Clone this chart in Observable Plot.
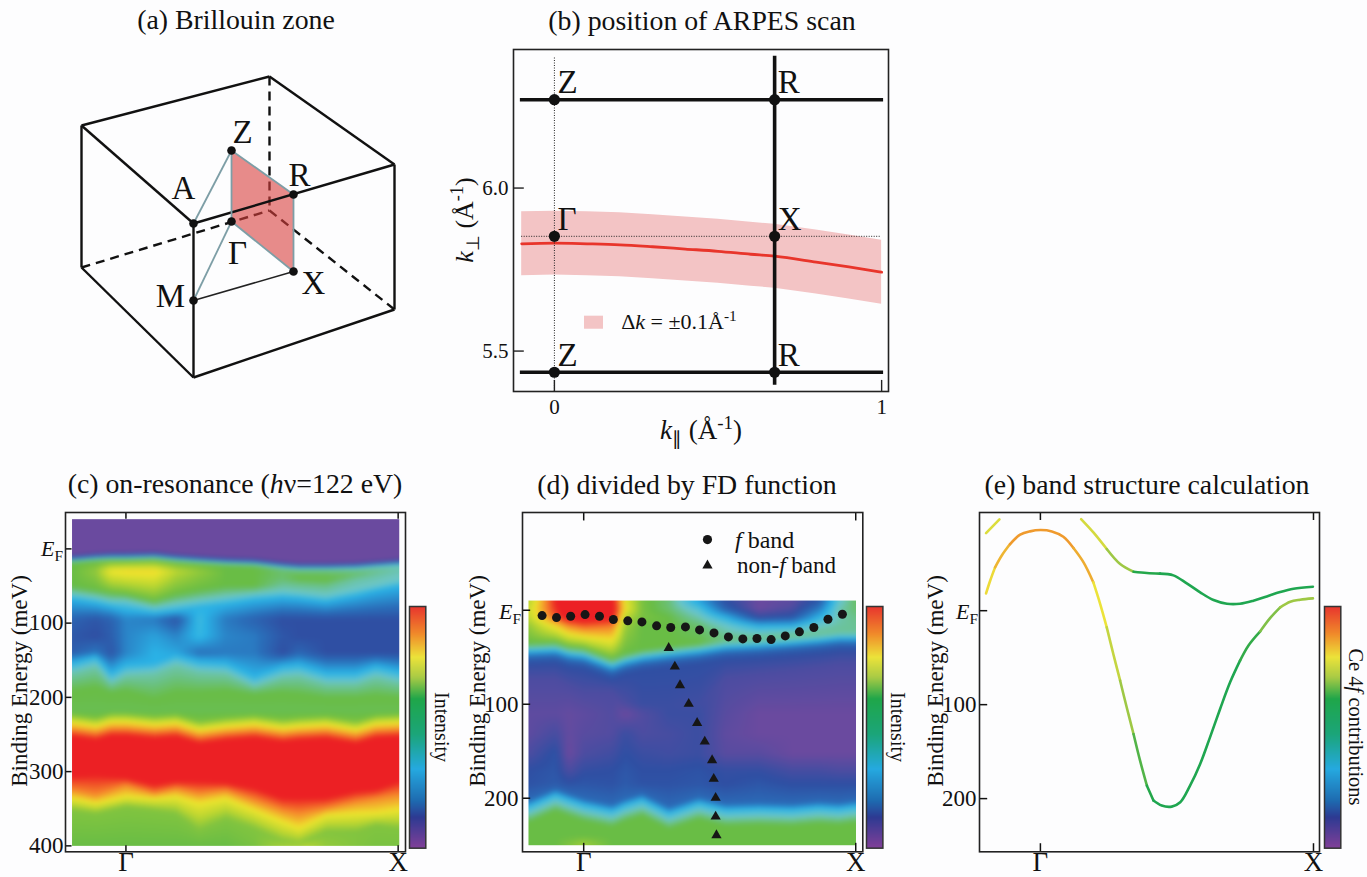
<!DOCTYPE html>
<html><head><meta charset="utf-8">
<script src="https://cdn.jsdelivr.net/npm/d3@7"></script>
<script src="https://cdn.jsdelivr.net/npm/@observablehq/plot@0.6"></script>
<style>
html,body{margin:0;background:#fdfdfe}
#root{position:relative;width:1367px;height:877px;overflow:hidden;font-family:"Liberation Serif",serif;color:#111}
.t{position:absolute;white-space:nowrap;line-height:1;transform:translate(-50%,-50%)}
.t sub,.t sup{font-size:70%;line-height:0}
</style></head><body><div id="root"></div>
<script>
// ---------- panel (a) schematic, in drawing units ----------
const vertices = {
  tl:[81,125], tb:[269,76], tr:[394,164], A:[193,223], bl:[81,267], bf:[193,377], br:[394,309], back:[269,210],
  Z:[231,150], R:[293,194], X:[293,271], G:[231,221], M:[193,300]
};
const solidEdges = [["tl","tb"],["tb","tr"],["tr","A"],["A","tl"],["tl","bl"],["bl","bf"],["bf","br"],["br","tr"],["A","bf"]];
const dashedEdges = [["tb","back"],["bl","back"],["back","br"]];
const grayEdges = [["A","Z"],["M","G"],["Z","G"],["G","X"],["X","R"],["Z","R"]];
const thinEdges = [["M","X"]];
const zoneDots = ["Z","R","X","G","M","A"];
const zoneLabels = [["Z",242,132],["R",299,175],["A",183,188],["Γ",237,253],["M",170,296],["X",313,283]];

// ---------- panel (b) ----------
const scanK = [-0.1,0,0.1,0.2,0.3,0.4,0.5,0.6,0.673,0.8,0.9,1];
const scanKperp = [5.829,5.831,5.829,5.826,5.820,5.813,5.806,5.797,5.791,5.773,5.758,5.742];
const scanUpper = [5.927,5.929,5.927,5.924,5.918,5.911,5.904,5.895,5.889,5.871,5.856,5.840];
const scanLower = [5.731,5.733,5.731,5.728,5.722,5.715,5.708,5.699,5.693,5.675,5.660,5.644];
const kZ = 0, kR = 0.673, eTop = 6.271, eMid = 5.852, eBot = 5.435;
const symLabels = [["Z",kZ,eTop],["R",kR,eTop],["Γ",kZ,eMid],["X",kR,eMid],["Z",kZ,eBot],["R",kR,eBot]];

// ---------- colour stops ----------
const heatLevels = [0,.1,.18,.3,.4,.5,.6,.68,.8,.92,1];
const heatColors = ["#6a4a9f","#2f4fa3","#2a6fba","#2ab2e6","#6cc6cb","#69bd45","#bcd631","#eee52d","#f58a2b","#ec2024","#ec2024"];
const barLevels = [0,.01,.127,.196,.327,.47,.617,.707,.79,.887,1];
const barColors = ["#7b3f98","#7b3f98","#2e3a92","#1e6bb0","#25a9e0","#1ba57a","#1fa64a","#a9cb45","#ece33a","#f08a2a","#e8352e"];

// ---------- panel (c): energy of each intensity contour along k ----------
const cK = [-.198,-.11,-.055,0,.104,.184,.269,.367,.471,.575,.636,.735,.845,.918,1.001];
const cTopEdge = -40;
const cPurpleEnd = [8.5,5.8,4.9,4.9,4,7.2,9.4,11.7,13,17.5,19.3,19.3,18.4,16.2,13.9];
const cNavy = [12,9.3,8.4,8.4,7.5,10.7,12.9,15.2,16.5,21,22.8,22.8,21.9,19.7,17.4];
const cPale = [15,12.3,11.4,11.4,10.5,13.7,15.9,18.2,19.5,24,25.8,25.8,24.9,22.7,20.4];
const cGreen1 = [19.5,16.8,15.9,15.9,15,18.2,20.4,22.7,24,28.5,30.3,30.3,29.4,27.2,24.9];
const cGreen1V = [.5,.5,.5,.5,.5,.5,.5,.5,.5,.47,.47,.47,.45,.44,.42];
const cRidge = [30,30,30,30,30,30,30,32,34,40,40,42,35,33,30];
const cRidgeV = [.5,.55,.68,.7,.7,.6,.55,.5,.5,.47,.5,.5,.47,.44,.42];
const cGreen2 = [49.9,55.3,58.9,61.2,70.2,61.2,55.3,49.9,49.9,45.4,47.7,49.9,40.9,38.7,34.1];
const cGreen2V = [.5,.5,.5,.5,.5,.5,.5,.5,.5,.45,.45,.45,.43,.42,.41];
const cTeal1 = [61.2,65.7,70.2,70.2,79.2,74.7,70.2,65.7,61.2,58,59.8,63.4,55.3,49.9,43.2];
const cCyan1 = [67.9,73.3,77.8,82.3,86.8,83.7,79.2,74.7,68.8,65.7,67,71.5,63.4,56.7,50.8];
const cIn1V = [.15,.12,.15,.22,.2,.12,.33,.2,.15,.1,.1,.1,.1,.1,.1];
const cIn2V = [.12,.1,.14,.22,.27,.22,.32,.22,.2,.12,.1,.1,.1,.1,.1];
const cIn3V = [.14,.2,.12,.22,.3,.28,.18,.2,.2,.1,.16,.1,.1,.1,.1];
const cCyan2 = [153.4,144.4,166.9,155.7,153.4,142.2,151.2,153.4,171.4,157.9,155.7,166.9,166.9,157.9,164.6];
const cTeal2 = [167,158,181,170,167,156,165,167,185,172,170,181,181,172,179];
const cGreen3 = [191.9,187.4,194.2,191.9,203.2,194.2,194.2,191.9,196.4,194.2,196.4,200.9,200.9,198.7,200.9];
const cGreen4 = [223.6,228,222,222,226,223.6,232.7,228,225,230.4,228,226,232.7,225,223.6];
const cYellow1 = [234.6,239.1,233.3,233.3,236.9,234.6,243.7,239.1,236,241.4,239.1,236.9,243.7,236,234.6];
const cOrange1 = [243.6,248,242.3,242.3,245.9,243.6,252.7,248,245,250.4,248,245.9,252.7,245,243.6];
const cRed1 = [252.6,257,251.3,251.3,255,252.6,261.7,257,254,259.4,257,255,261.7,254,252.6];
const cRed2 = [306.7,304.4,306.7,308.9,317.9,313.4,313.4,315.7,322.4,335.9,335.9,335.9,326.9,324.7,313.4];
const cOrange2 = [324.7,331.4,324.7,317.9,329.2,322.4,329.2,324.7,338.2,351.7,356.2,349.4,340.4,335.9,331.4];
const cYellow2 = [335.9,342.7,338.2,333.7,335.9,333.7,342.7,335.9,351.7,367.4,376.4,358.4,356.2,356.2,351.7];
const cGreen5 = [351.7,356.2,351.7,347.2,351.7,356.2,378.7,362.9,376.4,394.4,398,380.9,380.9,371.9,376.4];
const cBottomV = [.5,.5,.5,.5,.5,.5,.5,.5,.52,.58,.62,.55,.53,.52,.52];

// ---------- panel (d) ----------
const dK = [-.203,-.104,-.055,0,.104,.153,.215,.313,.423,.521,.643,.766,.864,.938,1.001];
const dRow0V = [.58,.92,.95,.95,.95,.66,.52,.46,.27,.1,0,.02,.12,.38,.48];
const dRow1V = [.62,.9,1,1,.98,.68,.52,.47,.36,.15,0,.05,.2,.42,.47];
const dRow2V = [.6,.85,.98,1,.95,.6,.52,.5,.42,.3,.09,.12,.3,.42,.45];
const dRow3V = [.55,.7,.8,.85,.82,.56,.5,.5,.47,.4,.3,.3,.4,.43,.44];
const dGreen1 = [35.1,34,38.7,40.4,51.8,46.5,42.2,38.7,35.1,30.5,28.7,25.9,23.4,20.9,20.9];
const dGreen1V = [.5,.5,.5,.5,.5,.5,.5,.5,.5,.46,.45,.45,.44,.44,.44];
const dTeal1 = [39.7,38.7,43.3,45,56.4,51.1,46.8,43.3,39.7,35.1,33.3,30.5,28,25.5,25.5];
const dCyan1 = [44,42.9,47.5,49.3,60.6,55.3,51.1,47.5,44,39.4,37.6,34.8,32.3,29.8,29.8];
const dMid1 = [49.3,48.2,52.8,54.6,65.9,60.6,56.4,52.8,49.3,44.7,42.9,40.1,37.6,35.1,35.1];
const dNavy = [56.4,55.3,59.9,61.7,73,67.7,63.5,59.9,56.4,51.8,50,47.2,44.7,42.2,42.2];
const dDeep = [73,73,80,87,87,100,100,100,100,73,67.7,64.2,60.6,57.1,57.1];
const dDeepV = [.05,.05,.05,.05,.05,.05,.08,.08,.07,.05,.05,.05,.05,.05,.05];
const dR110V = [.02,.02,.01,.02,.04,0,.04,.08,.08,.03,0,0,0,0,0];
const dR131V = [.02,.06,.01,.03,.04,.08,.05,.06,.08,.02,0,0,0,0,0];
const dR153V = [.05,.11,0,.05,.07,.1,.08,.07,.08,.03,.03,0,0,0,0];
const dR170V = [.1,.12,.05,.09,.1,.12,.1,.1,.11,.09,.09,.06,.06,.05,.05];
const dR185V = [.11,.13,.11,.12,.11,.13,.11,.11,.12,.1,.12,.1,.1,.1,.1];
const dMid2 = [203.2,190.8,196.1,201.5,207.8,201.5,196.1,210.3,199.7,206.8,205.7,206.8,204.3,205.7,203.2];
const dCyan2 = [207.7,195.3,200.6,206,212.3,206,200.6,214.8,204.2,211.3,210.2,211.3,208.8,210.2,207.7];
const dTeal2 = [217.7,205.3,210.6,216,222.3,216,210.6,224.8,214.2,221.3,220.2,221.3,218.8,220.2,217.7];
const dGreen2 = [225.7,213.3,218.6,224,230.3,224,218.6,232.8,222.2,229.3,228.2,229.3,226.8,228.2,225.7];
const dBottomV = [.5,.5,.53,.57,.5,.5,.5,.5,.5,.5,.5,.5,.5,.5,.5];
const fBandK = [-.153,-.1,-.048,.005,.058,.109,.162,.214,.268,.32,.374,.426,.479,.532,.585,.637,.689,.741,.793,.846,.898,.951];
const fBandE = [5.7,7.8,6.4,4.6,6.4,9.9,11.3,12.4,16.6,18.4,17.7,20.9,24.1,28.4,30.5,30.1,31.2,27.3,23,18.4,9.6,4.3];
const nonFK = [.3125,.335,.354,.386,.417,.445,.472,.478,.485,.485,.488];
const nonFE = [40.1,59.9,79.8,99.6,119.9,139.7,159.6,179.4,199.6,219.5,239.4];

// ---------- panel (e) ----------
const band1K = [-.199,-.184,-.166,-.142,-.111,-.074,-.038,0,.042,.084,.121,.158,.194,.219,.243,.267,.292,.316,.341,.365,.39,.414,.444,.481,.512,.548,.585,.621,.658,.695,.731,.762,.805,.841,.878,.915,.951,.998];
const band1E = [-18.4,-31.9,-46.1,-58.5,-70.9,-80.9,-84.4,-85.8,-84.4,-78.7,-66.7,-51.4,-30.1,-7.1,17.7,46.1,74.5,102.8,131.2,159.6,186.2,202.1,207.4,208.5,203.9,186.2,163.1,134.8,104.6,76,53.2,37,22,8,-3.5,-9.6,-11.7,-13.1];
const band1F = [.8,.8,.84,.84,.87,.87,.87,.87,.87,.87,.85,.85,.79,.79,.74,.74,.7,.7,.65,.65,.62,.6,.6,.6,.6,.6,.6,.6,.6,.6,.63,.63,.68,.68,.7,.7,.7,.7];
const band2K = [.149,.194,.243,.292,.341,.39,.438,.487,.536,.585,.634,.683,.731,.78,.829,.878,.927,.998];
const band2E = [-97.5,-83.3,-65.6,-49.6,-41.5,-40.1,-39.4,-37.6,-29.1,-19.5,-11.3,-7.4,-7.4,-10.6,-15.2,-19.9,-23.4,-25.5];
const band2F = [.76,.76,.7,.7,.62,.62,.6,.6,.6,.6,.6,.6,.6,.6,.6,.6,.6,.6];
const band3K = [-.199,-.15];
const band3E = [-82.6,-97.2];
const band3F = [.77,.77];

// ---------- helpers ----------
const root = document.getElementById("root");
const FONT = '"Liberation Serif",serif';
const ST = {background:"transparent",fontFamily:FONT,overflow:"visible",color:"#111"};
function put(el,left,top){el.style.position="absolute";el.style.left=left+"px";el.style.top=top+"px";el.style.maxWidth="none";root.append(el);}
function txt(html,x,y,size,rot){const d=document.createElement("div");d.className="t";d.innerHTML=html;d.style.left=x+"px";d.style.top=y+"px";d.style.fontSize=size+"px";if(rot)d.style.transform=`translate(-50%,-50%) rotate(${rot}deg)`;root.append(d);}
const zip = (xs,ys,fs)=>xs.map((x,i)=>({x,y:ys[i],f:fs?fs[i]:0}));
// contour sampler: each track is [energy or energies, level or levels]
function sampler(ks,tracks){
  const at=(a,i,t)=>typeof a==="number"?a:a[i]+(a[i+1]-a[i])*t;
  return (k,E)=>{
    let i=d3.bisectRight(ks,k)-1; i=Math.max(0,Math.min(ks.length-2,i));
    const t=Math.max(0,Math.min(1,(k-ks[i])/(ks[i+1]-ks[i])));
    let pe=at(tracks[0][0],i,t),pv=at(tracks[0][1],i,t);
    if(E<=pe) return pv;
    for(let j=1;j<tracks.length;j++){
      const e=at(tracks[j][0],i,t),v=at(tracks[j][1],i,t);
      if(E<=e) return pv+(v-pv)*(E-pe)/Math.max(e-pe,1e-6);
      pe=e;pv=v;
    }
    return pv;
  };
}
const cSample = sampler(cK,[[cTopEdge,0],[cPurpleEnd,0],[cNavy,.12],[cPale,.38],[cGreen1,cGreen1V],[cRidge,cRidgeV],[cGreen2,cGreen2V],[cTeal1,.4],[cCyan1,.3],[95,cIn1V],[117.4,cIn2V],[140,cIn3V],[cCyan2,.3],[cTeal2,.42],[cGreen3,.5],[219,.49],[cGreen4,.52],[cYellow1,.68],[cOrange1,.8],[cRed1,.92],[cRed2,.92],[cOrange2,.8],[cYellow2,.68],[cGreen5,.53],[400,cBottomV]]);
const dSample = sampler(dK,[[-10.3,dRow0V],[-1.4,dRow1V],[7.4,dRow2V],[16.3,dRow3V],[dGreen1,dGreen1V],[dTeal1,.42],[dCyan1,.3],[dMid1,.17],[dNavy,.1],[dDeep,dDeepV],[110,dR110V],[131.5,dR131V],[152.8,dR153V],[170.5,dR170V],[184.7,dR185V],[dMid2,.17],[dCyan2,.3],[dTeal2,.42],[dGreen2,.5],[240,.5],[250,dBottomV]]);

const heatScale = {type:"linear",domain:heatLevels,range:heatColors};
const barScale = {type:"linear",domain:barLevels,range:barColors};
const FR = {stroke:"#222",strokeWidth:1.6};

function panel({box,xDomain,yDomain,color,marks,noAxes}){
  const [x0,y0,x1,y1]=box, mx=70, mt=70, mb=26;
  const ax=noAxes?{axis:null}:{};
  const p=Plot.plot({width:x1-x0+2*mx,height:y1-y0+mt+mb,marginLeft:mx,marginRight:mx,marginTop:mt,marginBottom:mb,
    x:{domain:xDomain,...ax},y:{domain:yDomain,...ax},color,style:ST,marks});
  put(p,x0-mx,y0-mt);
}
function colorbar(x0,x1){
  panel({box:[x0,606,x1,847.7],xDomain:[0,1],yDomain:[0,1],color:barScale,noAxes:true,marks:[
    Plot.raster({fill:(x,y)=>y,x1:0,x2:1,y1:0,y2:1,pixelSize:1}),
    Plot.frame({stroke:"#333",strokeWidth:1.5})
  ]});
}
const kAxis = ()=>Plot.axisX([0,1],{tickFormat:d=>d===0?"Γ":"X",tickSize:0,tickPadding:0,fontSize:27,label:null});

// ---------- panel (a) ----------
{
  const seg=list=>list.map(([a,b])=>({x1:vertices[a][0],y1:vertices[a][1],x2:vertices[b][0],y2:vertices[b][1]}));
  const link=(list,o)=>Plot.link(seg(list),{x1:"x1",y1:"y1",x2:"x2",y2:"y2",...o});
  const sheet=[{x:vertices.Z[0],y1:vertices.Z[1],y2:vertices.G[1]},{x:vertices.R[0],y1:vertices.R[1],y2:vertices.X[1]}];
  const p=Plot.plot({width:450,height:400,margin:0,x:{domain:[0,450],axis:null},y:{domain:[400,0],axis:null},style:ST,marks:[
    link(dashedEdges,{stroke:"#111",strokeWidth:2.4,strokeDasharray:"9,6"}),
    Plot.areaY(sheet,{x:"x",y1:"y1",y2:"y2",fill:"#d8403c",fillOpacity:.6}),
    link(solidEdges,{stroke:"#111",strokeWidth:2.4}),
    link(grayEdges,{stroke:"#7d9ea6",strokeWidth:1.8}),
    link(thinEdges,{stroke:"#222",strokeWidth:1.5}),
    Plot.dot(zoneDots,{x:d=>vertices[d][0],y:d=>vertices[d][1],r:4.3,fill:"#111"}),
    Plot.text(zoneLabels,{x:d=>d[1],y:d=>d[2],text:d=>d[0],fontSize:33,fill:"#111"})
  ]});
  put(p,0,0);
}
// ---------- panel (b) ----------
panel({box:[513,49,888,391],xDomain:[-.125,1.021],yDomain:[5.376,6.425],marks:[
  Plot.areaY(zip(scanK,scanLower),{x:"x",y1:"y",y2:(d,i)=>scanUpper[i],fill:"#f3c4c5"}),
  Plot.rect([{x1:.092,x2:.15,y1:5.567,y2:5.607}],{x1:"x1",x2:"x2",y1:"y1",y2:"y2",fill:"#f3c4c5"}),
  Plot.line(zip(scanK,scanKperp),{x:"x",y:"y",stroke:"#e8352b",strokeWidth:2.8,curve:"monotone-x"}),
  Plot.ruleX([kZ],{y1:5.376,y2:6.4,stroke:"#222",strokeWidth:1,strokeDasharray:"1,1.5"}),
  Plot.ruleY([eMid],{x1:-.1,x2:1,stroke:"#222",strokeWidth:1,strokeDasharray:"1,1.5"}),
  Plot.ruleY([eTop,eBot],{x1:-.104,x2:1.006,stroke:"#111",strokeWidth:3.6}),
  Plot.ruleX([kR],{y1:5.395,y2:6.404,stroke:"#111",strokeWidth:3.6}),
  Plot.ruleY([6,5.5],{x1:-.125,x2:-.092,stroke:"#222",strokeWidth:1.4}),
  Plot.ruleX([0,1],{y1:5.376,y2:5.41,stroke:"#222",strokeWidth:1.4}),
  Plot.dot(symLabels,{x:d=>d[1],y:d=>d[2],r:5.6,fill:"#111"}),
  Plot.text(symLabels,{x:d=>d[1],y:d=>d[2],text:d=>d[0],fontSize:33,fill:"#111",dy:-17,textAnchor:"start",dx:3}),
  Plot.axisY([6,5.5],{tickFormat:d3.format(".1f"),tickSize:0,tickPadding:5,fontSize:21,label:null}),
  Plot.axisX([0,1],{tickFormat:d=>d,tickSize:0,tickPadding:8,fontSize:21,label:null}),
  Plot.frame(FR)
]});
txt("<i>k</i><sub>⊥</sub> (Å<sup>-1</sup>)",465,220,26,-90);
txt("<i>k</i><sub>∥</sub> (Å<sup>-1</sup>)",701,430,27);
txt("Δ<i>k</i> = ±0.1Å<sup>-1</sup>",679,322,22);

// ---------- panel (c) ----------
panel({box:[64.7,511.7,404.7,851],xDomain:[-.222,1.027],yDomain:[408,-49],color:heatScale,marks:[
  Plot.raster({fill:cSample,x1:-.198,x2:1.004,y1:-40,y2:400,pixelSize:1,blur:2}),
  Plot.ruleY([0,100,200,300,400],{x1:-.222,x2:-.198,stroke:"#111",strokeWidth:1.5}),
  Plot.ruleX([0,1],{y1:408,y2:400,stroke:"#111",strokeWidth:1.5}),
  Plot.ruleX([0,1],{y1:-49,y2:-40,stroke:"#111",strokeWidth:1.5}),
  Plot.axisY([100,200,300,400],{tickFormat:d=>d,tickSize:0,tickPadding:2,fontSize:23,label:null}),
  kAxis(),
  Plot.frame(FR)
]});
colorbar(408.7,425);

// ---------- panel (d) ----------
panel({box:[522,511.7,862.3,851],xDomain:[-.225,1.026],yDomain:[257,-104],color:heatScale,marks:[
  Plot.raster({fill:dSample,x1:-.203,x2:1.001,y1:-10.3,y2:250,pixelSize:1,blur:2}),
  Plot.ruleY([0,100,200],{x1:-.225,x2:-.195,stroke:"#111",strokeWidth:1.5}),
  Plot.ruleX([0,1],{y1:257,y2:248,stroke:"#111",strokeWidth:1.5}),
  Plot.ruleX([0,1],{y1:-104,y2:-95,stroke:"#111",strokeWidth:1.5}),
  Plot.dot(zip(fBandK,fBandE),{x:"x",y:"y",r:4.5,fill:"#161616"}),
  Plot.dot(zip(nonFK,nonFE),{x:"x",y:"y",r:3.8,symbol:"triangle",fill:"#161616"}),
  Plot.dot([{x:.455,y:-75.2}],{x:"x",y:"y",r:4.6,fill:"#161616"}),
  Plot.dot([{x:.455,y:-47.6}],{x:"x",y:"y",r:3.8,symbol:"triangle",fill:"#161616"}),
  Plot.axisY([100,200],{tickFormat:d=>d,tickSize:0,tickPadding:4,fontSize:23,label:null}),
  kAxis(),
  Plot.frame(FR)
]});
colorbar(866.3,882.7);

// ---------- panel (e) ----------
panel({box:[979.3,511.7,1319.3,851],xDomain:[-.223,1.022],yDomain:[256.6,-104.5],color:barScale,marks:[
  Plot.ruleY([0,100,200],{x1:-.223,x2:-.193,stroke:"#111",strokeWidth:1.5}),
  Plot.ruleX([0,1],{y1:256.6,y2:248,stroke:"#111",strokeWidth:1.5}),
  Plot.ruleX([0,1],{y1:-104.5,y2:-96,stroke:"#111",strokeWidth:1.5}),
  ...[zip(band1K,band1E,band1F),zip(band2K,band2E,band2F),zip(band3K,band3E,band3F)].map(b=>
    Plot.line(b,{x:"x",y:"y",stroke:"f",z:null,strokeWidth:2.6,curve:"catmull-rom"})),
  Plot.axisY([100,200],{tickFormat:d=>d,tickSize:0,tickPadding:3,fontSize:23,label:null}),
  kAxis(),
  Plot.frame(FR)
]});
colorbar(1324,1340.3);

// ---------- text ----------
txt("(a) Brillouin zone",236,20,27.8);
txt("(b) position of ARPES scan",702,21,27.8);
txt("(c) on-resonance (<i>h</i>ν=122 eV)",235,484,27.8);
txt("(d) divided by FD function",687,485,27.8);
txt("(e) band structure calculation",1147,485,27.8);
txt("Binding Energy (meV)",19,681,23,-90);
txt("Binding Energy (meV)",477,681,23,-90);
txt("Binding Energy (meV)",935,681,23,-90);
txt("Intensity",442,727,20,90);
txt("Intensity",898,727,20,90);
txt("Ce 4<i>f</i> contributions",1356,727,20.5,90);
const ef="<i>E</i><sub>F</sub>";
txt(ef,52,549,22);txt(ef,510,612,22);txt(ef,967,612,22);
const leg1=document.createElement("div");leg1.className="t";leg1.style.cssText="left:735px;top:540px;font-size:24px;transform:translate(0,-50%)";leg1.innerHTML="<i>f</i> band";root.append(leg1);
const leg2=document.createElement("div");leg2.className="t";leg2.style.cssText="left:737px;top:565px;font-size:23px;transform:translate(0,-50%)";leg2.innerHTML="non-<i>f</i> band";root.append(leg2);
</script></body></html>
